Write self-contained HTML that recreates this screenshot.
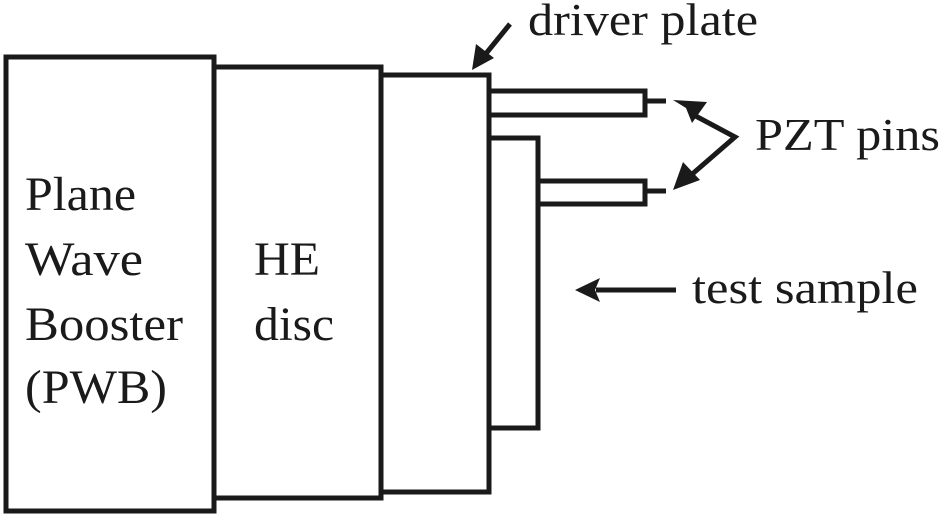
<!DOCTYPE html>
<html><head><meta charset="utf-8"><style>
html,body{margin:0;padding:0;background:#fff;}
svg{display:block;}
text{font-family:"Liberation Serif",serif;fill:#1a1a1a;}
</style></head><body>
<svg width="945" height="518" viewBox="0 0 945 518" xmlns="http://www.w3.org/2000/svg">
<g fill="none" stroke="#1a1a1a" stroke-width="5">
<rect x="6" y="57" width="208" height="454"/>
<rect x="214" y="67" width="167" height="431"/>
<rect x="381" y="75" width="108" height="417"/>
<rect x="489" y="138" width="49" height="290"/>
<polyline points="489,91 645,91 645,115 489,115"/>
<line x1="645" y1="101" x2="666" y2="101"/>
<polyline points="538,181 645,181 645,204 538,204"/>
<line x1="645" y1="191" x2="666" y2="191"/>
<line x1="510" y1="24" x2="484" y2="56"/>
<polyline points="690,113 735,137 690,176"/>
<line x1="596" y1="290" x2="676" y2="290"/>
</g>
<g fill="#1a1a1a">
<polygon points="472,70 476,44 494,58"/>
<polygon points="673,100 707,102 692,123 686,108"/>
<polygon points="673,190 683,162 700,180"/>
<polygon points="575,290 600,278 595,290 600,302"/>
</g>
<text x="528" y="35" font-size="46" textLength="230" lengthAdjust="spacingAndGlyphs">driver plate</text>
<text x="755" y="150" font-size="46" textLength="185" lengthAdjust="spacingAndGlyphs">PZT pins</text>
<text x="692" y="303" font-size="46" textLength="226" lengthAdjust="spacingAndGlyphs">test sample</text>
<text x="25" y="210" font-size="48" textLength="111" lengthAdjust="spacingAndGlyphs">Plane</text>
<text x="25" y="275" font-size="48" textLength="118" lengthAdjust="spacingAndGlyphs">Wave</text>
<text x="25" y="340" font-size="48" textLength="158" lengthAdjust="spacingAndGlyphs">Booster</text>
<text x="25" y="403" font-size="48" textLength="142" lengthAdjust="spacingAndGlyphs">(PWB)</text>
<text x="254" y="275" font-size="48" textLength="66" lengthAdjust="spacingAndGlyphs">HE</text>
<text x="254" y="340" font-size="48" textLength="80" lengthAdjust="spacingAndGlyphs">disc</text>
</svg>
</body></html>
